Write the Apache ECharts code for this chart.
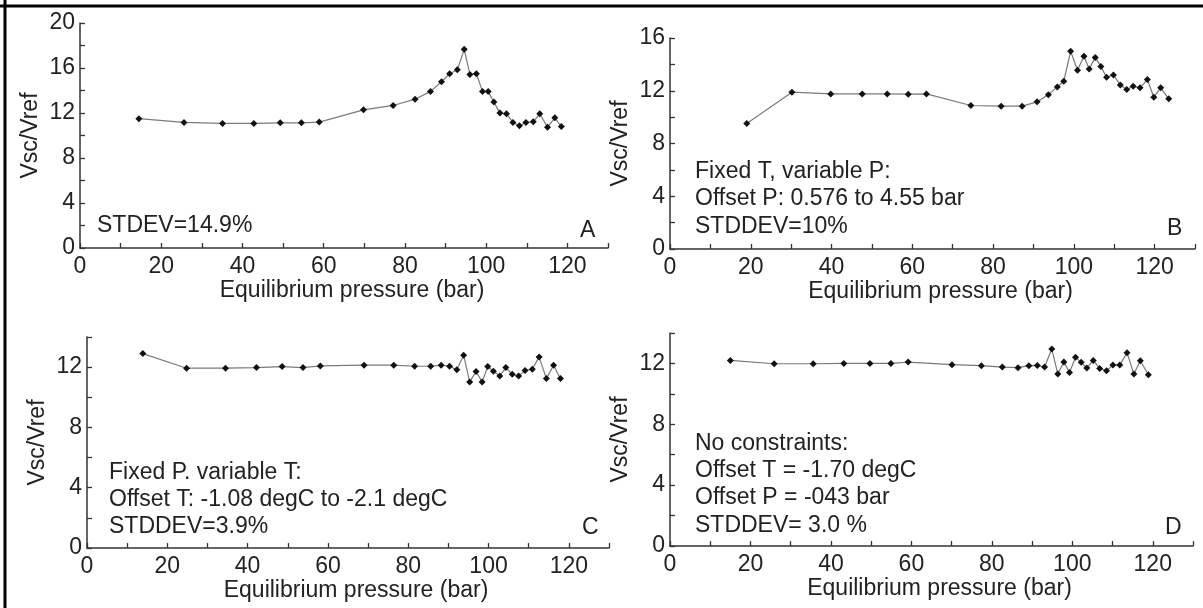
<!DOCTYPE html>
<html><head><meta charset="utf-8">
<script src="https://cdn.jsdelivr.net/npm/echarts@6/dist/echarts.min.js"></script>
<style>html,body{margin:0;padding:0;background:#fff}#c{width:1203px;height:608px}</style>
</head><body><div id="c"></div>
<script>
// Panel A
const xA = [14.5,25.6,35.1,42.8,49.3,54.5,58.9,69.8,77.1,82.5,86.3,89.0,91.0,92.9,94.6,96.0,97.6,99.1,100.5,101.9,103.4,105.0,106.6,108.2,109.8,111.6,113.2,115.1,116.9,118.5];
const yA = [11.5,11.16,11.07,11.07,11.13,11.13,11.19,12.28,12.67,13.23,13.92,14.78,15.49,15.85,17.66,15.43,15.49,13.92,13.92,12.97,11.99,11.93,11.16,10.86,11.16,11.22,11.93,10.74,11.57,10.8];
// Panel B
const xB = [19.0,30.2,39.8,47.6,53.8,59.0,63.5,74.5,82.0,87.2,90.9,93.7,95.9,97.5,99.2,100.9,102.5,103.8,105.3,106.7,108.1,109.8,111.5,113.1,114.7,116.4,118.2,119.8,121.5,123.5];
const yB = [9.52,11.89,11.76,11.76,11.76,11.74,11.76,10.88,10.83,10.83,11.16,11.69,12.29,12.72,14.99,13.55,14.61,13.65,14.53,13.83,13.02,13.2,12.44,12.09,12.34,12.22,12.85,11.51,12.22,11.39];
// Panel C
const xC = [13.9,24.8,34.5,42.2,48.6,53.8,58.1,69.0,76.4,81.6,85.6,88.2,90.3,92.1,93.8,95.3,96.9,98.4,99.8,101.2,102.8,104.3,105.9,107.5,109.1,110.9,112.6,114.4,116.2,117.9];
const yC = [12.9,11.93,11.93,11.97,12.04,11.97,12.08,12.13,12.13,12.06,12.06,12.13,12.06,11.82,12.79,11.02,11.71,11.02,12.04,11.73,11.42,11.97,11.53,11.42,11.77,11.86,12.68,11.24,12.13,11.24];
// Panel D
const xD = [15.0,25.9,35.6,43.2,49.7,54.9,59.2,70.1,77.4,82.6,86.5,89.2,91.3,93.1,94.9,96.4,97.9,99.3,100.8,102.2,103.6,105.2,106.8,108.5,110.1,111.8,113.6,115.3,116.9,118.9];
const yD = [12.2,11.98,11.98,12.0,12.0,12.0,12.09,11.92,11.85,11.76,11.72,11.85,11.87,11.76,12.95,11.3,12.09,11.41,12.4,12.07,11.7,12.2,11.67,11.52,11.89,11.89,12.71,11.3,12.18,11.26];

const yMax = [20, 16, 14, 14];
const xMax = 130;
const xName = 'Equilibrium pressure (bar)';
const yName = 'Vsc/Vref';
const panelLetters = ['A','B','C','D'];
const notes = [
  ['STDEV=14.9%'],
  ['Fixed T, variable P:','Offset P: 0.576 to 4.55 bar','STDDEV=10%'],
  ['Fixed P. variable T:','Offset T: -1.08 degC to -2.1 degC','STDDEV=3.9%'],
  ['No constraints:','Offset T = -1.70 degC','Offset P = -043 bar','STDDEV= 3.0 %']
];

const FONT = '"Liberation Sans", Arial, Helvetica, sans-serif';
const FS = 23;
const grids = [
  {left: 80, top: 23, width: 528, height: 225},
  {left: 670, top: 38, width: 525, height: 211},
  {left: 87, top: 337, width: 522, height: 211},
  {left: 670, top: 333, width: 523, height: 213}
];
const seriesData = [[xA,yA],[xB,yB],[xC,yC],[xD,yD]];

const axisLineStyle = {color:'#333', width:1.5};
const xAxes = grids.map((g,i)=>({
  type:'value', gridIndex:i, min:0, max:xMax, interval:10,
  name:xName, nameLocation:'middle', nameGap:30,
  nameTextStyle:{fontFamily:FONT, fontSize:FS, color:'#222', padding:[0,0,0,16]},
  axisLine:{show:true, lineStyle:axisLineStyle},
  axisTick:{show:true, inside:true, length:5, lineStyle:{color:'#333', width:1.3}},
  axisLabel:{fontFamily:FONT, fontSize:FS, color:'#222', margin:7,
    formatter:v=> (v%20===0 && v<=120) ? String(v) : ''},
  splitLine:{show:false}
}));
const yAxes = grids.map((g,i)=>({
  type:'value', gridIndex:i, min:0, max:yMax[i], interval:2,
  name:yName, nameLocation:'middle', nameGap:38,
  nameTextStyle:{fontFamily:FONT, fontSize:FS, color:'#222'},
  axisLine:{show:true, lineStyle:axisLineStyle},
  axisTick:{show:true, inside:true, length:5, lineStyle:{color:'#333', width:1.3}},
  axisLabel:{fontFamily:FONT, fontSize:FS, color:'#222', margin:5,
    formatter:v=> (v%4===0) ? String(v) : ''},
  splitLine:{show:false}
}));
const series = seriesData.map((d,i)=>({
  type:'line', xAxisIndex:i, yAxisIndex:i,
  data:d[0].map((x,k)=>[x,d[1][k]]),
  symbol:'diamond', symbolSize:7,
  itemStyle:{color:'#111'},
  lineStyle:{color:'#7a7a7a', width:1.2},
  animation:false
}));

// annotation text placement (pixel layout)
const noteLayout = [
  {x: 97, y: 226, lh: 27},
  {x: 695, y: 172, lh: 27.5},
  {x: 109, y: 473, lh: 27},
  {x: 695, y: 444, lh: 27.3}
];
const letterLayout = [{x:580,y:231},{x:1167,y:229},{x:582,y:528},{x:1165,y:528}];
const graphics = [];
notes.forEach((lines,i)=>{
  lines.forEach((t,k)=>{
    graphics.push({type:'text', left:noteLayout[i].x, top:noteLayout[i].y + k*noteLayout[i].lh - 12,
      style:{text:t, fill:'#222', font: FS+'px '+FONT}});
  });
  graphics.push({type:'text', left:letterLayout[i].x, top:letterLayout[i].y-12,
    style:{text:panelLetters[i], fill:'#222', font: FS+'px '+FONT}});
});
// frame lines (left and top)
graphics.push({type:'line', shape:{x1:5,y1:0,x2:5,y2:608}, style:{stroke:'#000', lineWidth:3}});
graphics.push({type:'line', shape:{x1:0,y1:6,x2:1203,y2:6}, style:{stroke:'#000', lineWidth:3}});

const chart = echarts.init(document.getElementById('c'), null, {renderer:'canvas'});
chart.setOption({
  backgroundColor:'#fff',
  animation:false,
  grid:grids,
  xAxis:xAxes, yAxis:yAxes, series:series,
  graphic:graphics
});
</script></body></html>
